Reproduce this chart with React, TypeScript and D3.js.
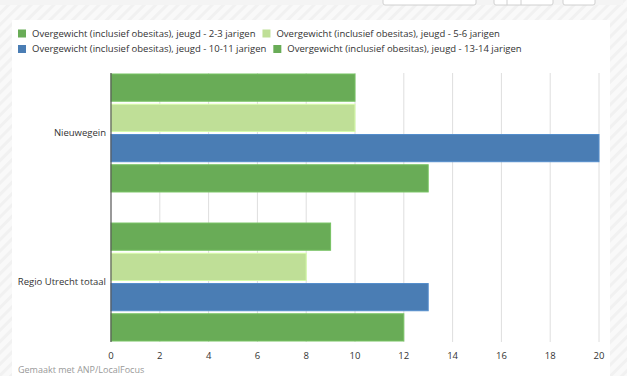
import React, { useEffect, useRef } from "react";
import * as d3 from "d3";

const categories = ["Nieuwegein", "Regio Utrecht totaal"];
const seriesNames = [
  "Overgewicht (inclusief obesitas), jeugd - 2-3 jarigen",
  "Overgewicht (inclusief obesitas), jeugd - 5-6 jarigen",
  "Overgewicht (inclusief obesitas), jeugd - 10-11 jarigen",
  "Overgewicht (inclusief obesitas), jeugd - 13-14 jarigen",
];
const seriesColors = ["#69ac57", "#bfdf97", "#4a7db4", "#69ac57"];
const values2_3 = [10, 9];
const values5_6 = [10, 8];
const values10_11 = [20, 13];
const values13_14 = [13, 12];
const seriesValues = [values2_3, values5_6, values10_11, values13_14];
const xTicks = [0, 2, 4, 6, 8, 10, 12, 14, 16, 18, 20];
const footer = "Gemaakt met ANP/LocalFocus";

const W = 627;
const H = 376;
const FONT = "'Open Sans', sans-serif";
const FS = 9.5;

export default function App() {
  const ref = useRef<SVGSVGElement>(null);

  useEffect(() => {
    const svg = d3.select(ref.current);
    svg.selectAll("*").remove();

    const defs = svg.append("defs");
    const pat = defs
      .append("pattern")
      .attr("id", "hatch")
      .attr("patternUnits", "userSpaceOnUse")
      .attr("width", 8)
      .attr("height", 8)
      .attr("patternTransform", "rotate(45)");
    pat.append("rect").attr("width", 8).attr("height", 8).attr("fill", "#f9f9f9");
    pat.append("rect").attr("width", 3).attr("height", 8).attr("fill", "#f1f1f1");

    // background
    svg.append("rect").attr("width", W).attr("height", H).attr("fill", "url(#hatch)");
    // top strip
    svg.append("rect").attr("x", 0).attr("y", 0).attr("width", 623).attr("height", 5).attr("fill", "#f4f4f4");
    const btns = [
      [383, 93],
      [494, 59],
      [563, 32],
    ];
    btns.forEach(([x, w]) => {
      svg
        .append("rect")
        .attr("x", x)
        .attr("y", -4)
        .attr("width", w)
        .attr("height", 9)
        .attr("rx", 2)
        .attr("fill", "#fff")
        .attr("stroke", "#d0d0d0");
    });
    [507, 521].forEach((x) =>
      svg.append("line").attr("x1", x).attr("x2", x).attr("y1", 0).attr("y2", 5).attr("stroke", "#d0d0d0")
    );
    // white panel
    svg.append("rect").attr("x", 12).attr("y", 20).attr("width", 598).attr("height", H - 20).attr("fill", "#fff");

    // legend
    const legend = svg.append("g").attr("font-family", FONT).attr("font-size", FS).attr("fill", "#333");
    let lx = 18;
    let ly = 33.5;
    const maxX = 600;
    seriesNames.forEach((name, i) => {
      const g = legend.append("g");
      const t = g
        .append("text")
        .attr("x", 14)
        .attr("y", 0)
        .attr("dy", "0.35em")
        .text(name);
      const tw = (t.node() as SVGTextElement).getComputedTextLength();
      const itemW = 14 + tw;
      if (lx + itemW > maxX && lx > 18) {
        lx = 18;
        ly += 15.5;
      }
      g.attr("transform", `translate(${lx},${ly})`);
      g.append("rect").attr("x", 0).attr("y", -4).attr("width", 8).attr("height", 8).attr("fill", seriesColors[i]);
      lx += itemW + 7;
    });

    // scales
    const x = d3.scaleLinear().domain([0, 20]).range([111, 599]);
    const y0 = d3.scaleBand<string>().domain(categories).range([73, 342]).paddingInner(0.195).paddingOuter(0);
    const y1 = d3
      .scaleBand<number>()
      .domain(d3.range(seriesNames.length))
      .range([1, y0.bandwidth() - 1])
      .paddingInner(0.1);

    // gridlines
    svg
      .append("g")
      .selectAll("line")
      .data(xTicks.filter((d) => d !== 0))
      .join("line")
      .attr("x1", (d) => x(d))
      .attr("x2", (d) => x(d))
      .attr("y1", 73)
      .attr("y2", 342)
      .attr("stroke", "#dedede")
      .attr("stroke-width", 1);

    // bars
    categories.forEach((cat, ci) => {
      seriesValues.forEach((vals, si) => {
        const c = d3.color(seriesColors[si])!;
        svg
          .append("rect")
          .attr("x", x(0))
          .attr("y", (y0(cat) as number) + (y1(si) as number))
          .attr("width", x(vals[ci]) - x(0))
          .attr("height", y1.bandwidth())
          .attr("fill", seriesColors[si])
          .attr("stroke", (c as any).brighter(0.35).toString())
          .attr("stroke-width", 1);
      });
    });

    // axis line
    svg
      .append("line")
      .attr("x1", 111)
      .attr("x2", 111)
      .attr("y1", 73)
      .attr("y2", 342)
      .attr("stroke", "#555")
      .attr("stroke-width", 1.2);

    // category labels
    svg
      .append("g")
      .attr("font-family", FONT)
      .attr("font-size", FS)
      .attr("fill", "#333")
      .selectAll("text")
      .data(categories)
      .join("text")
      .attr("x", 106)
      .attr("y", (d) => (y0(d) as number) + y0.bandwidth() / 2)
      .attr("dy", "0.35em")
      .attr("text-anchor", "end")
      .text((d) => d);

    // tick labels
    svg
      .append("g")
      .attr("font-family", FONT)
      .attr("font-size", FS)
      .attr("fill", "#333")
      .selectAll("text")
      .data(xTicks)
      .join("text")
      .attr("x", (d) => x(d))
      .attr("y", 355.7)
      .attr("dy", "0.35em")
      .attr("text-anchor", "middle")
      .text((d) => String(d));

    // footer
    svg
      .append("text")
      .attr("x", 18)
      .attr("y", 373)
      .attr("font-family", FONT)
      .attr("font-size", 9)
      .attr("fill", "#999")
      .text(footer);
  }, []);

  return (
    <svg
      ref={ref}
      width={W}
      height={H}
      style={{ position: "absolute", left: 0, top: 0, display: "block" }}
    />
  );
}
